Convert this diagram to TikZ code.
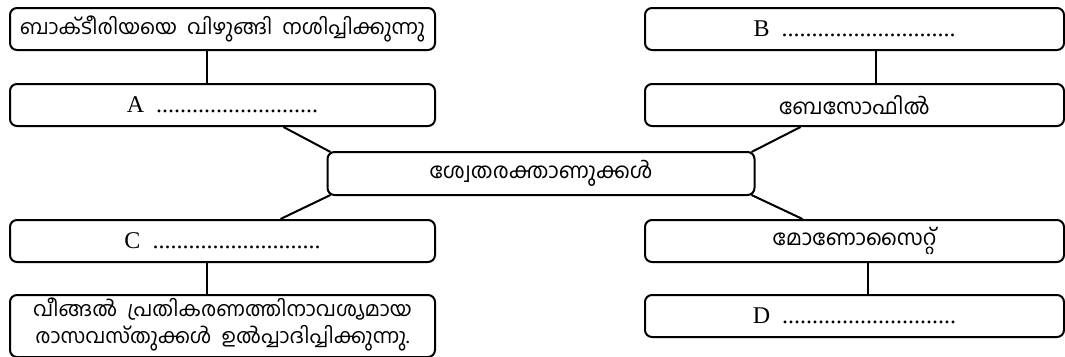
\documentclass[tikz,border=0pt]{standalone}
\usepackage{fontspec}
\setmainfont{Liberation Serif}
\newfontfamily\mlfont[Script=Malayalam]{Hind Kochi}

\begin{document}
\begin{tikzpicture}[x=1pt, y=-1pt, line width=2pt,
  box/.style={draw, rounded corners=7pt, minimum height=42pt, inner sep=0pt},
  lbox/.style={box, minimum width=425pt},
  rbox/.style={box, minimum width=419pt},
  ml/.style={font=\mlfont\fontsize{21.5}{29}\selectfont},
  mlsmall/.style={font=\mlfont\fontsize{20.5}{27}\selectfont},
  blank/.style={font=\fontsize{24}{28}\selectfont}]
\useasboundingbox (0,0) rectangle (1065,356);

% centre
\node[box, ml, minimum width=427pt, minimum height=43pt] (wbc) at (541,173.5)
  {ശ്വേതരക്താണുക്കൾ};

% left column
\node[lbox, mlsmall] (kill) at (222.5,29) {ബാക്ടീരിയയെ\ \ വിഴുങ്ങി\ \ നശിപ്പിക്കുന്നു};
\node[lbox, blank] (boxA) at (222.5,105) {A \ ...........................};
\node[lbox, blank] (boxC) at (222.5,241) {C \ ............................};
\node[lbox, minimum height=62pt] (chem) at (222.5,326) {};
\node[mlsmall, align=center, inner sep=0pt] (chemtext) at (222.5,324)
  {വീങ്ങൽ\ \ പ്രതികരണത്തിനാവശ്യമായ\\രാസവസ്തുക്കൾ\ \ ഉൽപ്പാദിപ്പിക്കുന്നു.};

% right column
\node[rbox, blank] (boxB) at (854.5,29) {B \ .............................};
\node[rbox, ml] (baso) at (854.5,105) {ബേസോഫിൽ};
\node[rbox, ml] (mono) at (854.5,241) {മോണോസൈറ്റ്};
\node[rbox, blank] (boxD) at (854.5,316) {D \ .............................};

% links
\draw ([xshift=-16pt]kill.south) -- ([xshift=-16pt]boxA.north);
\draw ([xshift=-16pt]boxC.south) -- ([xshift=-16pt]chem.north);
\draw ([xshift=21pt]boxB.south) -- ([xshift=21pt]baso.north);
\draw ([xshift=13pt]mono.south) -- ([xshift=13pt]boxD.north);
\draw ([xshift=61pt]boxA.south) -- ([shift={(4pt,-1pt)}]wbc.north west);
\draw ([xshift=58pt]boxC.north) -- ([shift={(4pt,1pt)}]wbc.south west);
\draw ([xshift=-54pt]baso.south) -- ([shift={(-4pt,-1pt)}]wbc.north east);
\draw ([xshift=-52pt]mono.north) -- ([shift={(-4pt,1pt)}]wbc.south east);
\end{tikzpicture}
\end{document}
